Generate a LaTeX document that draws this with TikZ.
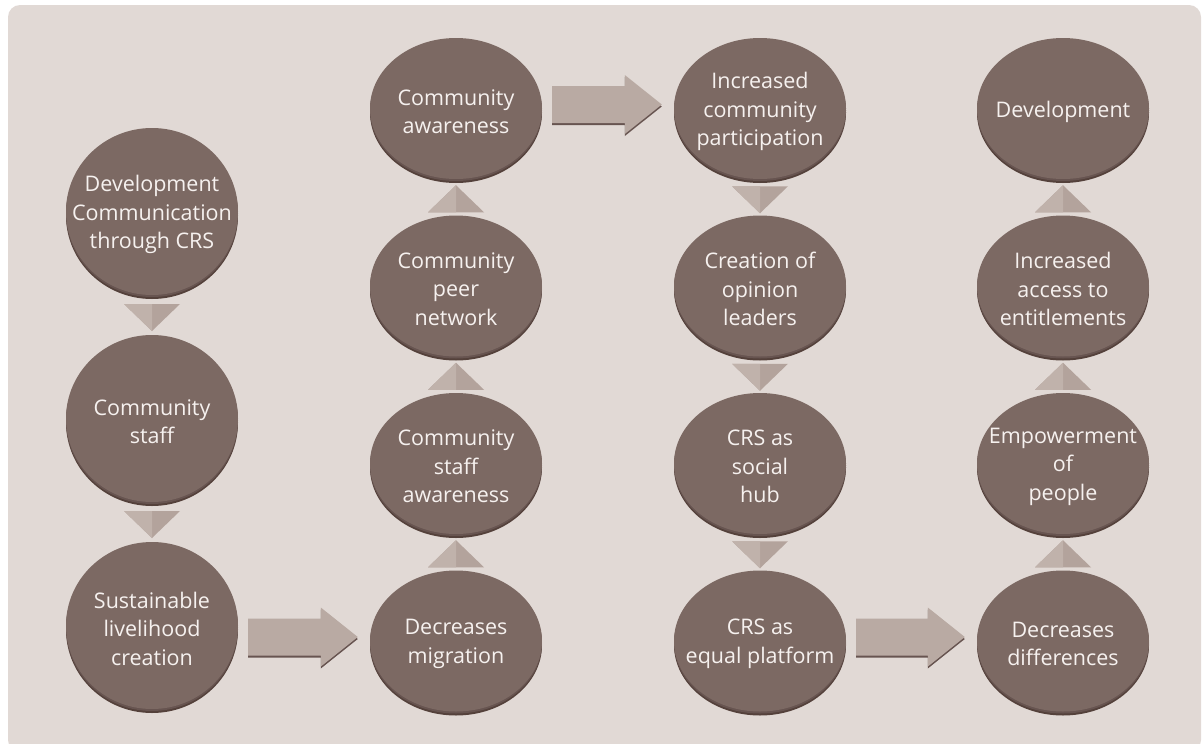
\documentclass[tikz,border=0pt]{standalone}
\usepackage{fontspec}
\setmainfont{Open Sans}
\usepackage{tikz}
\usetikzlibrary{calc,shapes.geometric}
\definecolor{bgcol}{HTML}{E1D9D5}
\definecolor{bubcol}{HTML}{7C6963}
\definecolor{bubrim}{HTML}{54413B}
\definecolor{bubmid}{HTML}{675450}
\definecolor{tricol}{HTML}{B3A39C}
\definecolor{trilight}{HTML}{C0B2AB}
\definecolor{arrcol}{HTML}{B9AAA3}
\definecolor{txtcol}{HTML}{F6F1EF}
\tikzset{%
	bubble/.style    = {ellipse, fill=bubcol, inner sep=0pt, minimum width=172, minimum height=141,
		preaction={fill=bubrim, transform canvas={yshift=-4pt}},
		preaction={fill=bubmid, transform canvas={yshift=-2pt}}},
	bigbubble/.style = {bubble, minimum height=167},
	caption/.style   = {text=txtcol, align=center, inner sep=0pt, yshift=-3pt, font=\fontsize{21.5}{28.5}\selectfont},
	wedgefill/.style = {fill=tricol},
	wedgelit/.style  = {fill=trilight},
	blockfill/.style = {fill=arrcol},
	blockshade/.style= {fill=bubmid, transform canvas={yshift=-2pt}},
}
\newcommand{\wedgedown}[2]{%
	\coordinate (m) at ($(#1.south)!.5!(#2.north)+(0,-2)$);
	\fill[wedgefill] ($(m)+(-28,13)$) -- ($(m)+(28,13)$) -- ($(m)+(0,-14)$) -- cycle;
	\fill[wedgelit] ($(m)+(-28,13)$) -- ($(m)+(0,13)$) -- ($(m)+(0,-14)$) -- cycle;}
\newcommand{\wedgeup}[2]{%
	\coordinate (m) at ($(#1.north)!.5!(#2.south)+(0,-2)$);
	\fill[wedgefill] ($(m)+(-28,-13)$) -- ($(m)+(28,-13)$) -- ($(m)+(0,14)$) -- cycle;
	\fill[wedgelit] ($(m)+(-28,-13)$) -- ($(m)+(0,-13)$) -- ($(m)+(0,14)$) -- cycle;}
\newcommand{\blockarrow}[2]{%
	\coordinate (tip) at ($(#2.west)+(-12,4)$);
	\coordinate (tail) at ($(#1.east)+(10,0)$);
	\coordinate (base) at (tail |- tip);
	\fill[blockshade] ($(base)+(0,18.5)$) -- ($(tip)+(-37,18.5)$) -- ($(tip)+(-37,29.5)$) -- (tip) -- ($(tip)+(-37,-29.5)$) -- ($(tip)+(-37,-18.5)$) -- ($(base)+(0,-18.5)$) -- cycle;
	\fill[blockfill] ($(base)+(0,18.5)$) -- ($(tip)+(-37,18.5)$) -- ($(tip)+(-37,29.5)$) -- (tip) -- ($(tip)+(-37,-29.5)$) -- ($(tip)+(-37,-18.5)$) -- ($(base)+(0,-18.5)$) -- cycle;}

\begin{document}
\begin{tikzpicture}[x=1pt,y=1pt]
	\useasboundingbox (0,0) rectangle (1202,-744);
	\clip (0,0) rectangle (1202,-744);
	\fill[bgcol,rounded corners=12] (8,-5) rectangle (1201,-752);
	
	\node[bigbubble] (dc) at (152,-211.5) {};
	\node[bigbubble] (cs) at (152,-418.5) {};
	\node[bigbubble] (sl) at (152,-625.5) {};
	\node[caption] (dc-t) at (dc) {Development\\Communication\\through CRS};
	\node[caption] (cs-t) at (cs) {Community\\staff};
	\node[caption] (sl-t) at (sl) {Sustainable\\livelihood\\creation};
	
	\node[bubble] (ca) at (456,-108.5) {};
	\node[bubble] (pn) at (456,-286) {};
	\node[bubble] (sa) at (456,-463.5) {};
	\node[bubble] (dm) at (456,-641) {};
	\node[caption] (ca-t) at (ca) {Community\\awareness};
	\node[caption] (pn-t) at (pn) {Community\\peer\\network};
	\node[caption] (sa-t) at (sa) {Community\\staff\\awareness};
	\node[caption] (dm-t) at (dm) {Decreases\\migration};
	
	\node[bubble] (ic) at (760,-108.5) {};
	\node[bubble] (ol) at (760,-286) {};
	\node[bubble] (sh) at (760,-463.5) {};
	\node[bubble] (ep) at (760,-641) {};
	\node[caption] (ic-t) at (ic) {Increased\\community\\participation};
	\node[caption] (ol-t) at (ol) {Creation of\\opinion\\leaders};
	\node[caption] (sh-t) at (sh) {CRS as\\social\\hub};
	\node[caption] (ep-t) at (ep) {CRS as\\equal platform};
	
	\node[bubble] (dv) at (1063,-108.5) {};
	\node[bubble] (ae) at (1063,-286) {};
	\node[bubble] (pe) at (1063,-463.5) {};
	\node[bubble] (dd) at (1063,-641) {};
	\node[caption] (dv-t) at (dv) {Development};
	\node[caption] (ae-t) at (ae) {Increased\\access to\\entitlements};
	\node[caption] (pe-t) at (pe) {Empowerment\\of\\people};
	\node[caption] (dd-t) at (dd) {Decreases\\differences};
	
	\wedgedown{dc}{cs}
	\wedgedown{cs}{sl}
	\wedgeup{dm}{sa}
	\wedgeup{sa}{pn}
	\wedgeup{pn}{ca}
	\wedgedown{ic}{ol}
	\wedgedown{ol}{sh}
	\wedgedown{sh}{ep}
	\wedgeup{dd}{pe}
	\wedgeup{pe}{ae}
	\wedgeup{ae}{dv}
	
	\blockarrow{sl}{dm}
	\blockarrow{ca}{ic}
	\blockarrow{ep}{dd}
\end{tikzpicture}
\end{document}
